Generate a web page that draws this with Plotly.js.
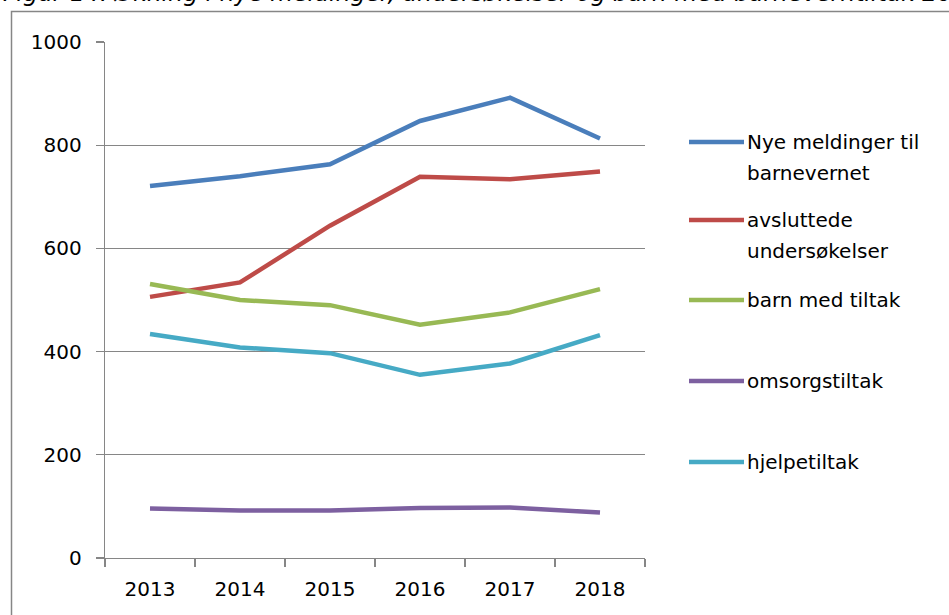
<!DOCTYPE html>
<html>
<head>
<meta charset="utf-8">
<script src="https://cdn.plot.ly/plotly-3.0.1.min.js"></script>
<style>
html,body{margin:0;padding:0;background:#fff;}
#chart{width:949px;height:615px;}
</style>
</head>
<body>
<div id="chart"></div>
<script>
// ---- data ----
var years = ["2013", "2014", "2015", "2016", "2017", "2018"];
var seriesNames = ["Nye meldinger til<br>barnevernet", "avsluttede<br>undersøkelser", "barn med tiltak", "omsorgstiltak", "hjelpetiltak"];
var nyeMeldinger = [721, 740, 763, 847, 892, 813];
var avsluttedeUndersokelser = [506, 534, 644, 739, 734, 749];
var barnMedTiltak = [531, 500, 490, 452, 476, 521];
var omsorgstiltak = [96, 92, 92, 97, 98, 88];
var hjelpetiltak = [434, 408, 397, 355, 377, 432];
var yTicks = [0, 200, 400, 600, 800, 1000];
var titleText = "Figur 14. Økning i nye meldinger, undersøkelser og barn med barneverntiltak 2013-2018";

// ---- styling ----
var colors = ["#4A7EBB", "#BE4B48", "#98B954", "#7D60A0", "#46AAC5"];
var seriesValues = [nyeMeldinger, avsluttedeUndersokelser, barnMedTiltak, omsorgstiltak, hjelpetiltak];
var FONT = "'DejaVu Sans', sans-serif";
var FS = 20;
var W = 949, H = 615, L = 105, R = 645, T = 42, B = 558;
function px(x){ return (x - L) / (R - L); }
function py(y){ return (B - y) / (B - T); }

var traces = seriesValues.map(function(v, i){
  return {
    x: years, y: v, type: "scatter", mode: "lines",
    name: seriesNames[i].replace("<br>", " "),
    line: {color: colors[i], width: 4.5},
    showlegend: false, hoverinfo: "x+y+name"
  };
});

// manual legend, Excel style
var legendY = [142, 220, 300, 381, 462];
var lineGap = 31;
var shapes = [];
var annotations = [];
seriesNames.forEach(function(n, i){
  shapes.push({type: "line", xref: "paper", yref: "paper",
    x0: px(689), x1: px(744), y0: py(legendY[i]), y1: py(legendY[i]),
    line: {color: colors[i], width: 4.5}});
  n.split("<br>").forEach(function(part, k){
    annotations.push({xref: "paper", yref: "paper", x: px(745), y: py(legendY[i] + k * lineGap),
      xanchor: "left", yanchor: "middle", align: "left", showarrow: false,
      text: part, font: {family: FONT, size: FS, color: "#000"}});
  });
});
// figure caption, clipped by the top edge as in the reference
annotations.push({xref: "paper", yref: "paper", x: px(1), y: py(-7),
  xanchor: "left", yanchor: "middle", align: "left", showarrow: false,
  text: titleText, font: {family: FONT, size: 23.5, color: "#000", style: "italic"}});
// outer frame
shapes.push({type: "rect", xref: "paper", yref: "paper",
  x0: px(11.5), x1: px(1000), y0: py(11.5), y1: py(700),
  line: {color: "#868686", width: 1.5}, fillcolor: "rgba(0,0,0,0)", layer: "below"});

var layout = {
  width: W, height: H,
  margin: {l: L, r: W - R, t: T, b: H - B, pad: 0},
  paper_bgcolor: "#fff", plot_bgcolor: "#fff",
  showlegend: false,
  font: {family: FONT, size: FS, color: "#000"},
  xaxis: {
    type: "category", range: [-0.5, 5.5], tickson: "boundaries",
    showgrid: false, showline: true, linecolor: "#868686", linewidth: 1.3,
    ticks: "outside", ticklen: 8, tickcolor: "#868686", tickwidth: 1.3,
    ticklabelstandoff: 13, zeroline: false, fixedrange: true,
    tickfont: {family: FONT, size: FS, color: "#000"}
  },
  yaxis: {
    range: [0, 1000], tickvals: yTicks, ticktext: yTicks.map(String),
    showgrid: true, gridcolor: "#868686", gridwidth: 1.3,
    showline: true, linecolor: "#868686", linewidth: 1.3,
    ticks: "outside", ticklen: 8, tickcolor: "#868686", tickwidth: 1.3,
    ticklabelstandoff: 10, zeroline: false, fixedrange: true,
    tickfont: {family: FONT, size: FS, color: "#000"}
  },
  shapes: shapes,
  annotations: annotations
};

Plotly.newPlot("chart", traces, layout, {displayModeBar: false, staticPlot: true});
</script>
</body>
</html>
